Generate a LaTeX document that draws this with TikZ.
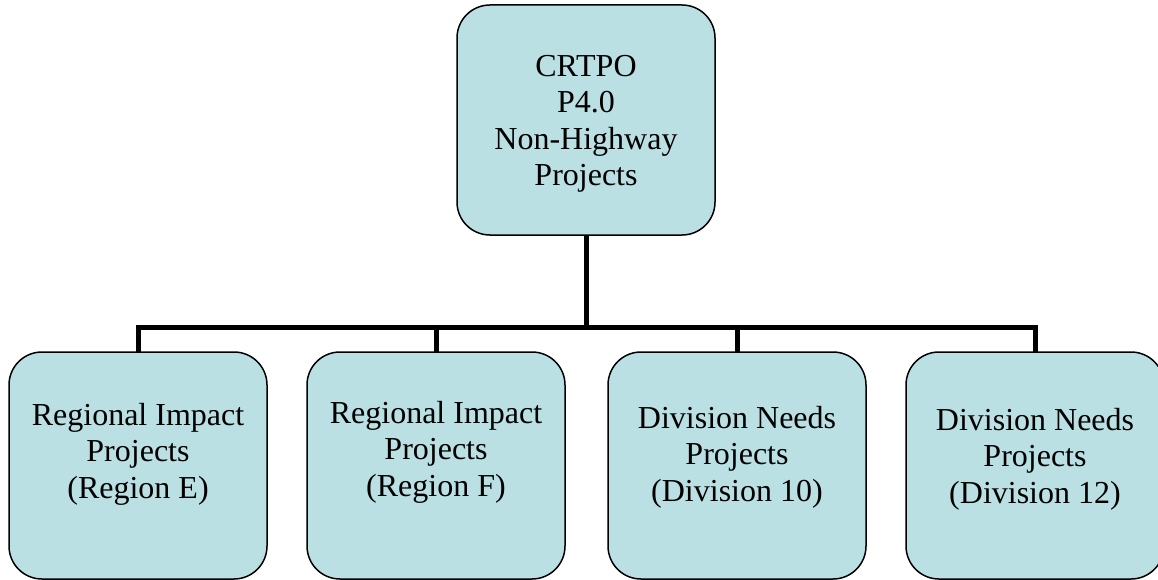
\documentclass[tikz,border=0pt]{standalone}
\usepackage{fontspec}
\setmainfont{Liberation Serif}
\definecolor{boxfill}{HTML}{BBE0E3}
\begin{document}
\begin{tikzpicture}[x=1pt,y=-1pt,
  box/.style={draw=black, line width=1.5pt, fill=boxfill, rounded corners=33pt, minimum width=258pt, inner sep=0pt, outer sep=0pt},
  lbl/.style={align=center, font=\fontsize{32}{36.5}\selectfont, inner sep=0pt},
  conn/.style={line width=5pt, draw=black}]
\useasboundingbox (0,0) rectangle (1158,580);
\clip (0,0) rectangle (1158,580);
\fill[white] (0,0) rectangle (1158,580);
% top box
\node[box, minimum height=230pt] (top) at (586,120) {};
\node[lbl] (ttop) at (586,124) {CRTPO\\P4.0\\Non-Highway\\Projects};
% bottom boxes
\node[box, minimum height=227pt] (b1) at (138,465.5) {};
\node[box, minimum height=227pt] (b2) at (436,465.5) {};
\node[box, minimum height=227pt] (b3) at (737,465.5) {};
\node[box, minimum height=227pt] (b4) at (1035,465.5) {};
\node[lbl] (t1) at (138,454) {Regional Impact\\Projects\\(Region E)};
\node[lbl] (t2) at (436,452) {Regional Impact\\Projects\\(Region F)};
\node[lbl] (t3) at (737,457) {Division Needs\\Projects\\(Division 10)};
\node[lbl] (t4) at (1035,459) {Division Needs\\Projects\\(Division 12)};
% connectors
\coordinate (bus) at (586,327);
\draw[conn] (top.south) -- (bus);
\draw[conn] (b1.north) |- (bus) -| (b4.north);
\draw[conn] (b2.north) -- (b2.north |- bus);
\draw[conn] (b3.north) -- (b3.north |- bus);
\end{tikzpicture}
\end{document}
